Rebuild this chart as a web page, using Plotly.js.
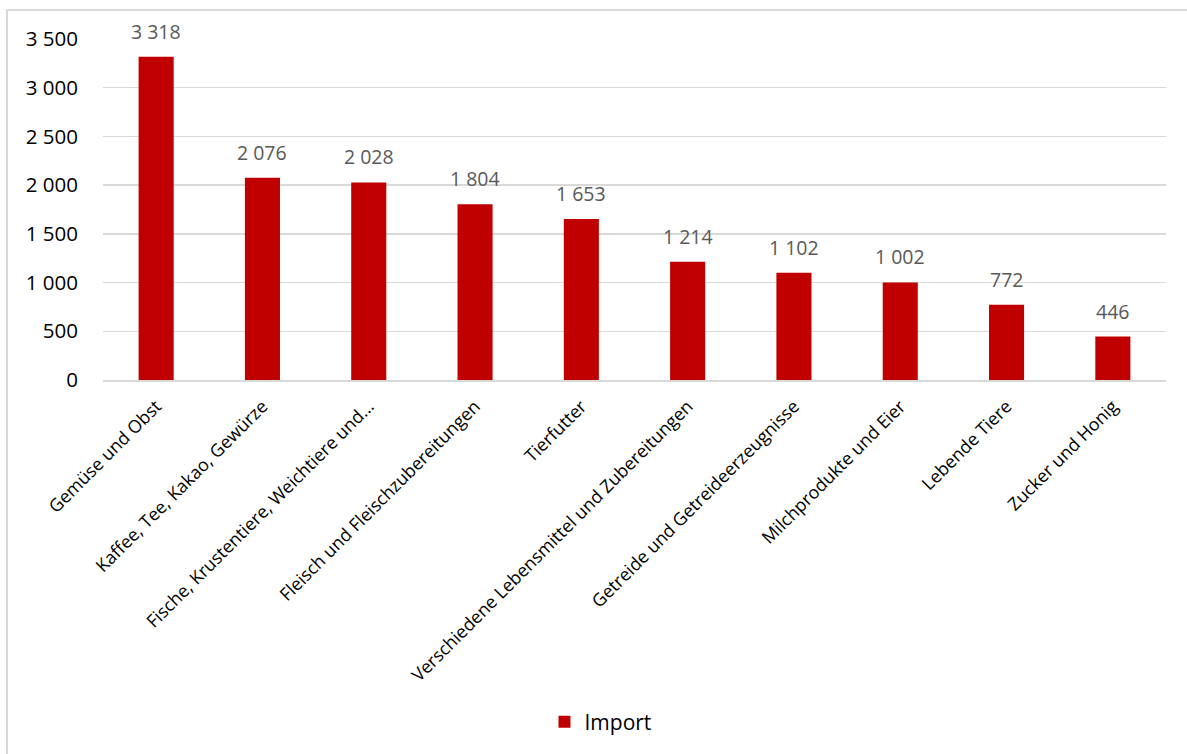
<!DOCTYPE html>
<html>
<head>
<meta charset="utf-8">
<script src="https://cdn.plot.ly/plotly-3.0.1.min.js"></script>
<style>html,body{margin:0;padding:0;background:#fff}#chart{width:1187px;height:754px}</style>
</head>
<body>
<div id="chart"></div>
<script>
const categories = [
  "Gemüse und Obst",
  "Kaffee, Tee, Kakao, Gewürze",
  "Fische, Krustentiere, Weichtiere und...",
  "Fleisch und Fleischzubereitungen",
  "Tierfutter",
  "Verschiedene Lebensmittel und Zubereitungen",
  "Getreide und Getreideerzeugnisse",
  "Milchprodukte und Eier",
  "Lebende Tiere",
  "Zucker und Honig"
];
const importValues = [3318, 2076, 2028, 1804, 1653, 1214, 1102, 1002, 772, 446];
const seriesName = "Import";
const yTicks = [0, 500, 1000, 1500, 2000, 2500, 3000, 3500];

const FONT = "Open Sans, Noto Sans, sans-serif";
const fmt = v => String(v).replace(/\B(?=(\d{3})+(?!\d))/g, " ");

const trace = {
  type: "bar",
  x: categories,
  y: importValues,
  name: seriesName,
  marker: {color: "#C00000"},
  hoverinfo: "x+y"
};

const labels = categories.map((c, i) => ({
  x: c, y: importValues[i], xref: "x", yref: "y",
  text: fmt(importValues[i]), showarrow: false,
  yanchor: "bottom", yshift: 10,
  font: {family: FONT, size: 19.5, color: "#595959"}
}));

const layout = {
  width: 1187, height: 754,
  margin: {l: 103, r: 21, t: 39, b: 374},
  paper_bgcolor: "#fff", plot_bgcolor: "#fff",
  separators: ", ",
  font: {family: FONT, color: "#000"},
  bargap: 0.67,
  showlegend: true,
  legend: {orientation: "h", x: 0.468, xanchor: "center", y: -1.003, yanchor: "middle",
           font: {family: FONT, size: 21, color: "#000"}},
  xaxis: {
    tickangle: -45, tickfont: {family: FONT, size: 17.8, color: "#000"},
    showline: true, linecolor: "#d9d9d9", linewidth: 2,
    ticks: "outside", ticklen: 7, tickcolor: "rgba(0,0,0,0)",
    showgrid: false, automargin: false
  },
  yaxis: {
    range: [0, 3500], tickvals: yTicks, tickformat: ",d",
    tickfont: {family: FONT, size: 20.5, color: "#000"},
    showgrid: true, gridcolor: "#d9d9d9", gridwidth: 1.5,
    zeroline: false, showline: false,
    ticks: "outside", ticklen: 20, tickcolor: "rgba(0,0,0,0)",
    automargin: false
  },
  annotations: labels,
  shapes: [{
    type: "rect", xref: "paper", yref: "paper",
    x0: -0.0903, x1: 1.03, y0: -1.2, y1: 1.085,
    line: {color: "#d9d9d9", width: 2}, fillcolor: "rgba(0,0,0,0)", layer: "below"
  }]
};

Plotly.newPlot("chart", [trace], layout, {staticPlot: true, displayModeBar: false});
</script>
</body>
</html>
